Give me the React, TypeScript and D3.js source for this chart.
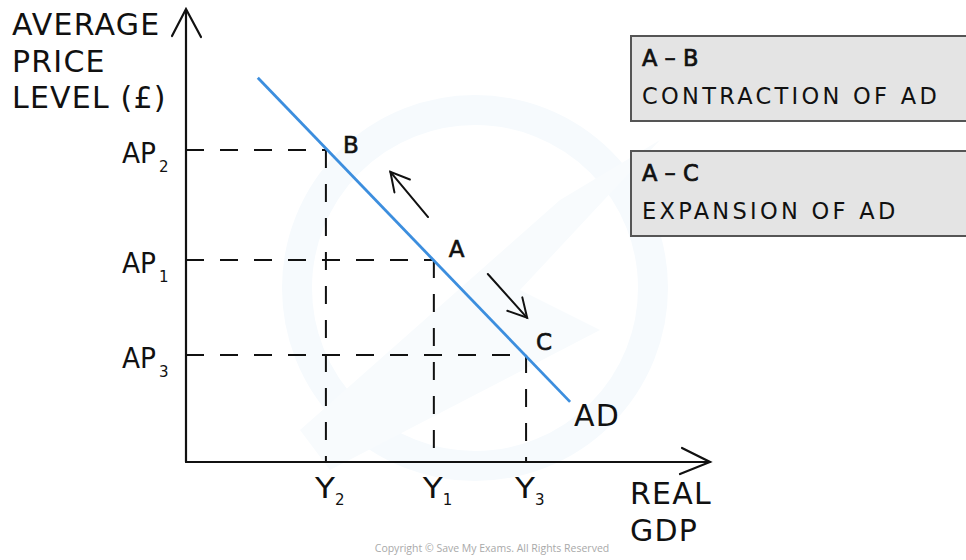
import React from "react";
import * as d3 from "d3";

// ---- data ----
const priceLevels = [
  { label: "AP", sub: "2", value: 69.0 },
  { label: "AP", sub: "1", value: 44.7 },
  { label: "AP", sub: "3", value: 23.7 },
];
const gdpLevels = [
  { label: "Y", sub: "2", value: 26.7 },
  { label: "Y", sub: "1", value: 47.3 },
  { label: "Y", sub: "3", value: 64.9 },
];
const adCurve = [
  { x: 13.7, y: 85.0 },
  { x: 73.3, y: 13.3 },
];
const points = [
  { name: "B", x: 26.7, y: 69.0 },
  { name: "A", x: 47.3, y: 44.7 },
  { name: "C", x: 64.9, y: 23.7 },
];
// arrows along the curve (from -> to), in data units
const moveArrows = [
  { from: { x: 46.2, y: 54.2 }, to: { x: 39.0, y: 64.2 } },
  { from: { x: 57.6, y: 41.6 }, to: { x: 65.1, y: 31.9 } },
];
const boxTitles = ["A – B", "A – C"];
const boxTexts = ["CONTRACTION OF AD", "EXPANSION OF AD"];
const yAxisTitle = ["AVERAGE", "PRICE", "LEVEL (£)"];
const xAxisTitle = ["REAL", "GDP"];
const curveLabel = "AD";
const copyright = "Copyright © Save My Exams. All Rights Reserved";

const W = 966;
const H = 560;
const FONT = "'DejaVu Sans', sans-serif";

export default function App() {
  const x = d3.scaleLinear().domain([0, 100]).range([186, 710]);
  const y = d3.scaleLinear().domain([0, 100]).range([462, 10]);
  const line = d3
    .line<{ x: number; y: number }>()
    .x((d) => x(d.x))
    .y((d) => y(d.y));

  const arrowHead = (fx: number, fy: number, tx: number, ty: number, len = 22, ang = 0.45) => {
    const a = Math.atan2(fy - ty, fx - tx);
    const p1 = [tx + len * Math.cos(a + ang), ty + len * Math.sin(a + ang)];
    const p2 = [tx + len * Math.cos(a - ang), ty + len * Math.sin(a - ang)];
    return `M${p1[0]},${p1[1]}L${tx},${ty}L${p2[0]},${p2[1]}`;
  };

  const x0 = x(0);
  const y0 = y(0);
  const dash = "18 16";

  return (
    <svg width={W} height={H} style={{ display: "block", position: "absolute", left: 0, top: 0 }} fontFamily={FONT}>
      <rect width={W} height={H} fill="#ffffff" />
      {/* faint watermark */}
      <g>
        <circle cx={475} cy={288} r={178} fill="none" stroke="#f6fafd" strokeWidth={30} />
        <path d="M300,430 L560,200 L660,140 L520,290 L600,330 L330,470 Z" fill="#f8fbfd" />
      </g>

      {/* dashed guides */}
      <g stroke="#111" strokeWidth={2} strokeDasharray={dash} fill="none">
        {priceLevels.map((p, i) => (
          <line key={"h" + i} x1={x0} x2={x(gdpLevels[i].value)} y1={y(p.value)} y2={y(p.value)} />
        ))}
        {gdpLevels.map((g, i) => (
          <line key={"v" + i} x1={x(g.value)} x2={x(g.value)} y1={y(priceLevels[i].value)} y2={y0} />
        ))}
      </g>

      {/* axes */}
      <g stroke="#111" strokeWidth={2.2} fill="none" strokeLinecap="round">
        <line x1={x0} y1={y(100)} x2={x0} y2={y0} />
        <line x1={x0} y1={y0} x2={x(100)} y2={y0} />
        <path d={`M${x0 - 14},${y(100) + 26}L${x0},${y(100) - 1}L${x0 + 15},${y(100) + 27}`} />
        <path d={`M${x(100) - 28},${y0 - 14}L${x(100)},${y0}L${x(100) - 30},${y0 + 12}`} />
      </g>

      {/* AD curve */}
      <path d={line(adCurve) || ""} stroke="#3c8ede" strokeWidth={2.8} fill="none" />

      {/* movement arrows */}
      <g stroke="#111" strokeWidth={2} fill="none" strokeLinecap="round">
        {moveArrows.map((a, i) => {
          const fx = x(a.from.x), fy = y(a.from.y), tx = x(a.to.x), ty = y(a.to.y);
          return (
            <g key={i}>
              <line x1={fx} y1={fy} x2={tx} y2={ty} />
              <path d={arrowHead(fx, fy, tx, ty, 21, 0.5)} />
            </g>
          );
        })}
      </g>

      {/* point labels */}
      <g fontSize={23} fill="#111" stroke="#111" strokeWidth={0.6}>
        <text x={x(points[0].x) + 17} y={y(points[0].y) + 3}>{points[0].name}</text>
        <text x={x(points[1].x) + 15} y={y(points[1].y) - 3}>{points[1].name}</text>
        <text x={x(points[2].x) + 10} y={y(points[2].y) - 5}>{points[2].name}</text>
      </g>

      {/* tick labels */}
      <g fontSize={29} fill="#111">
        {priceLevels.map((p, i) => (
          <text key={i} x={x0 - 64} y={y(p.value) + 13}>
            <tspan textLength={34} lengthAdjust="spacingAndGlyphs">{p.label}</tspan>
            <tspan dx={3} dy={9} fontSize={15}>{p.sub}</tspan>
          </text>
        ))}
        {gdpLevels.map((g, i) => (
          <text key={"g" + i} x={x(g.value) - 11} y={y0 + 36}>
            <tspan textLength={20} lengthAdjust="spacingAndGlyphs">{g.label}</tspan>
            <tspan dx={0} dy={7} fontSize={15}>{g.sub}</tspan>
          </text>
        ))}
      </g>

      {/* axis titles */}
      <g fontSize={30} fill="#111" letterSpacing={1.2}>
        {yAxisTitle.map((t, i) => (
          <text key={i} x={12} y={35 + i * 36.5}>
            {t}
          </text>
        ))}
        {xAxisTitle.map((t, i) => (
          <text key={"x" + i} x={630} y={504 + i * 37}>
            {t}
          </text>
        ))}
        <text x={574} y={426}>{curveLabel}</text>
      </g>

      {/* boxes */}
      {boxTitles.map((t, i) => {
        const top = 36 + i * 115;
        return (
          <g key={"b" + i}>
            <rect x={631} y={top} width={345} height={85} fill="#e4e4e4" stroke="#555" strokeWidth={2} />
            <text x={642} y={top + 30} fontSize={22.5} fill="#111" stroke="#111" strokeWidth={0.7}>
              {t}
            </text>
            <text x={642} y={top + 68} fontSize={22.5} fill="#111" letterSpacing={3.3}>
              {boxTexts[i]}
            </text>
          </g>
        );
      })}

      <text x={492} y={552} fontSize={10.5} fill="#a9a9a9" textAnchor="middle" fontFamily="'Open Sans', sans-serif">
        {copyright}
      </text>
    </svg>
  );
}
